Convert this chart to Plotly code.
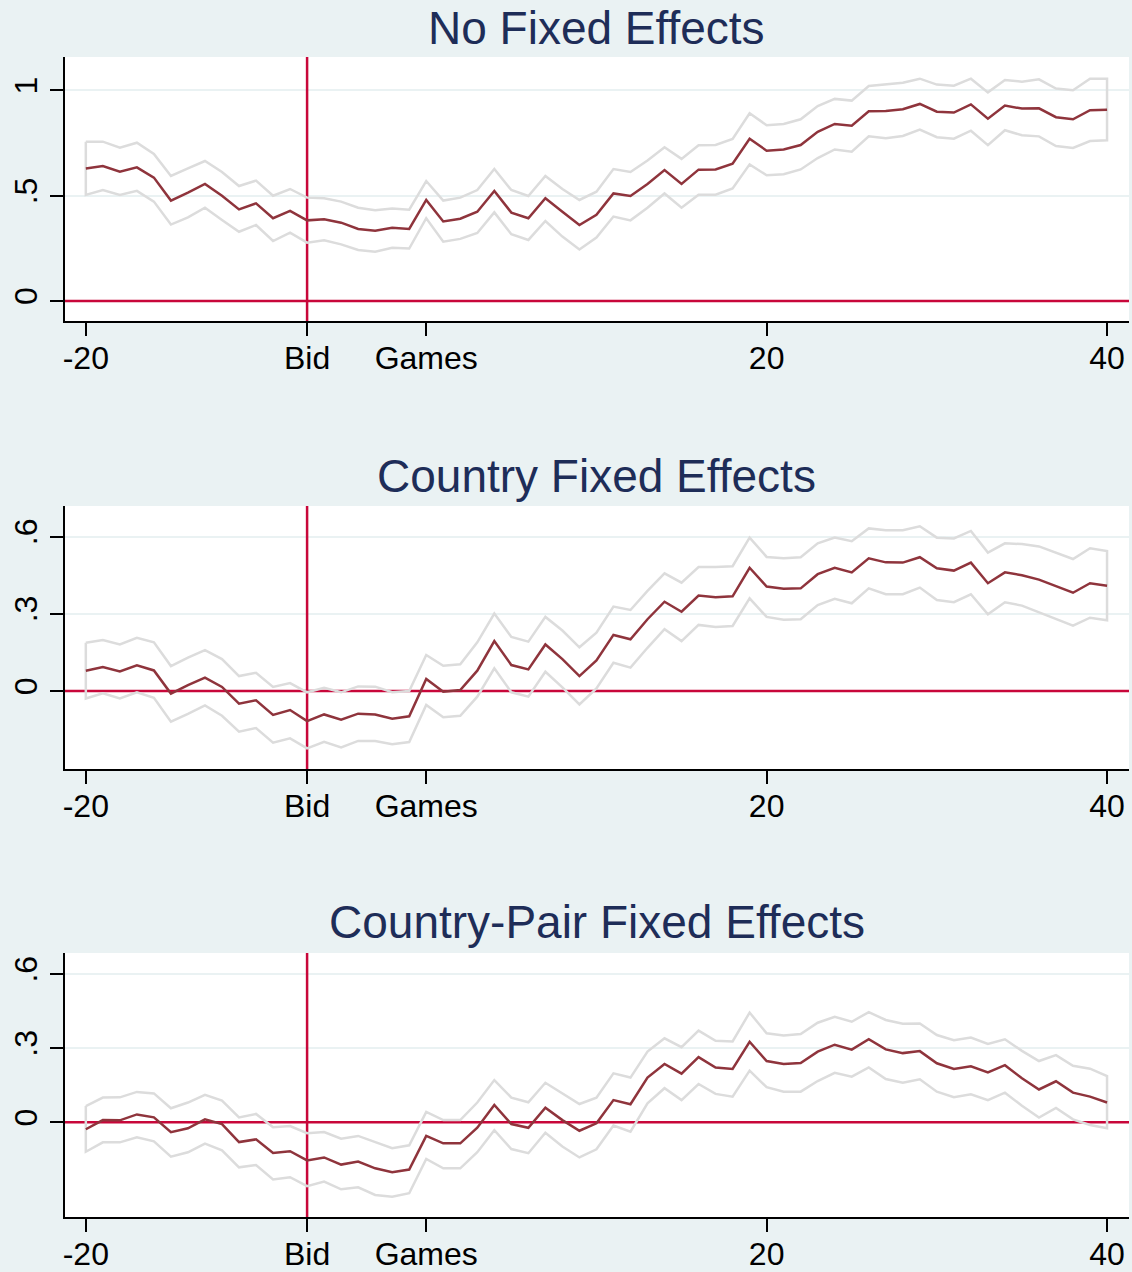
import plotly.graph_objects as go

# ---------------- data ----------------
periods = list(range(-20, 41))
tick_vals = [-20, -7, 0, 20, 40]
tick_text = ["-20", "Bid", "Games", "20", "40"]

titles = ["No Fixed Effects", "Country Fixed Effects", "Country-Pair Fixed Effects"]

nofe_est = [0.629, 0.641, 0.614, 0.635, 0.586, 0.477, 0.515, 0.556, 0.500, 0.435, 0.464, 0.393, 0.428, 0.383, 0.388, 0.372, 0.342, 0.334, 0.348, 0.342, 0.480,
            0.378, 0.391, 0.424, 0.523, 0.420, 0.393, 0.488, 0.424, 0.361, 0.409, 0.511, 0.499, 0.556, 0.622, 0.556, 0.624, 0.625, 0.652, 0.771, 0.714,
            0.720, 0.741, 0.804, 0.841, 0.833, 0.901, 0.903, 0.911, 0.936, 0.899, 0.895, 0.934, 0.866, 0.928, 0.914, 0.915, 0.873, 0.863, 0.906, 0.909]
nofe_hi = [0.757, 0.757, 0.728, 0.752, 0.698, 0.594, 0.630, 0.665, 0.613, 0.546, 0.572, 0.500, 0.532, 0.491, 0.488, 0.472, 0.443, 0.431, 0.439, 0.434, 0.570,
           0.477, 0.491, 0.527, 0.627, 0.527, 0.499, 0.594, 0.532, 0.480, 0.519, 0.627, 0.613, 0.667, 0.730, 0.675, 0.740, 0.741, 0.770, 0.892, 0.835,
           0.841, 0.863, 0.926, 0.960, 0.952, 1.021, 1.028, 1.037, 1.056, 1.028, 1.023, 1.056, 0.991, 1.050, 1.042, 1.053, 1.009, 1.001, 1.056, 1.056]
nofe_lo = [0.504, 0.527, 0.504, 0.523, 0.472, 0.363, 0.397, 0.443, 0.385, 0.329, 0.361, 0.285, 0.325, 0.277, 0.288, 0.269, 0.242, 0.234, 0.253, 0.249, 0.393,
           0.282, 0.295, 0.323, 0.421, 0.317, 0.290, 0.380, 0.306, 0.245, 0.301, 0.401, 0.383, 0.443, 0.511, 0.443, 0.505, 0.505, 0.535, 0.649, 0.597,
           0.602, 0.625, 0.679, 0.720, 0.709, 0.782, 0.773, 0.784, 0.814, 0.778, 0.771, 0.809, 0.740, 0.811, 0.787, 0.782, 0.736, 0.727, 0.760, 0.763]

cfe_est = [0.079, 0.093, 0.076, 0.100, 0.080, -0.010, 0.023, 0.052, 0.016, -0.049, -0.036, -0.093, -0.074, -0.117, -0.091, -0.111, -0.088, -0.091, -0.108, -0.098, 0.047,
           -0.003, 0.004, 0.079, 0.194, 0.101, 0.084, 0.181, 0.124, 0.058, 0.119, 0.218, 0.201, 0.279, 0.347, 0.308, 0.371, 0.364, 0.368, 0.479, 0.406,
           0.397, 0.399, 0.454, 0.479, 0.461, 0.516, 0.500, 0.499, 0.520, 0.477, 0.468, 0.499, 0.419, 0.461, 0.450, 0.433, 0.408, 0.382, 0.419, 0.409]
cfe_hi = [0.188, 0.198, 0.181, 0.207, 0.189, 0.097, 0.130, 0.159, 0.124, 0.058, 0.071, 0.016, 0.031, -0.005, 0.013, -0.005, 0.018, 0.017, -0.005, 0.000, 0.140,
          0.098, 0.104, 0.189, 0.301, 0.210, 0.192, 0.288, 0.235, 0.170, 0.227, 0.328, 0.315, 0.389, 0.457, 0.421, 0.482, 0.482, 0.485, 0.596, 0.521,
          0.516, 0.520, 0.574, 0.596, 0.582, 0.632, 0.625, 0.625, 0.640, 0.596, 0.593, 0.622, 0.538, 0.574, 0.571, 0.562, 0.538, 0.513, 0.555, 0.544]
cfe_lo = [-0.029, -0.009, -0.029, -0.005, -0.026, -0.119, -0.089, -0.056, -0.096, -0.158, -0.144, -0.201, -0.184, -0.223, -0.197, -0.219, -0.194, -0.194, -0.207, -0.198, -0.054,
          -0.102, -0.096, -0.022, 0.088, -0.005, -0.022, 0.075, 0.014, -0.052, 0.010, 0.110, 0.091, 0.168, 0.240, 0.194, 0.257, 0.249, 0.253, 0.360, 0.288,
          0.277, 0.279, 0.334, 0.358, 0.341, 0.399, 0.376, 0.376, 0.402, 0.354, 0.345, 0.376, 0.298, 0.345, 0.332, 0.306, 0.280, 0.254, 0.285, 0.275]

pfe_est = [-0.028, 0.009, 0.008, 0.032, 0.020, -0.040, -0.024, 0.012, -0.007, -0.080, -0.069, -0.124, -0.117, -0.154, -0.142, -0.171, -0.159, -0.186, -0.202, -0.191, -0.055,
           -0.085, -0.085, -0.022, 0.070, -0.007, -0.022, 0.059, 0.009, -0.034, -0.004, 0.090, 0.073, 0.181, 0.236, 0.197, 0.264, 0.222, 0.216, 0.326, 0.248,
           0.236, 0.240, 0.286, 0.314, 0.294, 0.336, 0.295, 0.280, 0.288, 0.239, 0.216, 0.227, 0.202, 0.231, 0.178, 0.133, 0.166, 0.120, 0.104, 0.080]
pfe_hi = [0.066, 0.100, 0.101, 0.123, 0.117, 0.057, 0.080, 0.111, 0.088, 0.020, 0.034, -0.020, -0.015, -0.044, -0.039, -0.066, -0.055, -0.081, -0.105, -0.093, 0.042,
          0.009, 0.009, 0.080, 0.171, 0.100, 0.081, 0.160, 0.117, 0.074, 0.100, 0.198, 0.181, 0.286, 0.340, 0.304, 0.371, 0.330, 0.327, 0.444, 0.360,
          0.351, 0.357, 0.403, 0.427, 0.407, 0.446, 0.414, 0.399, 0.400, 0.353, 0.332, 0.343, 0.317, 0.336, 0.289, 0.248, 0.272, 0.229, 0.217, 0.187]
pfe_lo = [-0.119, -0.081, -0.081, -0.061, -0.077, -0.139, -0.121, -0.086, -0.113, -0.182, -0.173, -0.231, -0.222, -0.258, -0.240, -0.271, -0.263, -0.294, -0.301, -0.287, -0.148,
          -0.186, -0.186, -0.121, -0.032, -0.108, -0.125, -0.042, -0.098, -0.142, -0.109, -0.013, -0.038, 0.077, 0.138, 0.090, 0.155, 0.115, 0.104, 0.209, 0.142,
          0.124, 0.124, 0.167, 0.200, 0.185, 0.222, 0.175, 0.160, 0.174, 0.124, 0.102, 0.113, 0.090, 0.120, 0.067, 0.019, 0.058, 0.012, -0.011, -0.024]

y_ticks = [[0, 0.5, 1], [0, 0.3, 0.6], [0, 0.3, 0.6]]
y_ticktext = [["0", ".5", "1"], ["0", ".3", ".6"], ["0", ".3", ".6"]]

# ---------------- styling ----------------
W, H = 1132, 1272
BG = "#EAF2F3"
EST_COLOR = "#8F343C"
CI_COLOR = "#DCDCDC"
REF_COLOR = "#C8073A"
TITLE_COLOR = "#1E2D58"
FONT = "Liberation Sans, Arial, sans-serif"

x_range = [-21.23, 41.29]
y_ranges = [[-0.095, 1.159], [-0.303, 0.719], [-0.383, 0.685]]
panel_px = [(57, 321), (506, 769), (953, 1217)]
x_px = (63, 1129)
title_px = [28, 476, 922]

panels = [(nofe_est, nofe_hi, nofe_lo), (cfe_est, cfe_hi, cfe_lo), (pfe_est, pfe_hi, pfe_lo)]

fig = go.Figure()
layout = dict(
    width=W, height=H,
    paper_bgcolor=BG, plot_bgcolor="white",
    margin=dict(l=0, r=0, t=0, b=0),
    showlegend=False,
    font=dict(family=FONT, size=32, color="black"),
)
annotations = []

for i, (est, hi, lo) in enumerate(panels):
    n = i + 1
    xa = "x" if n == 1 else f"x{n}"
    ya = "y" if n == 1 else f"y{n}"
    xkey = "xaxis" if n == 1 else f"xaxis{n}"
    ykey = "yaxis" if n == 1 else f"yaxis{n}"

    # reference lines (drawn first so the series sit on top): y = 0 and x = Bid
    fig.add_trace(go.Scatter(x=x_range, y=[y_ticks[i][0]] * 2, mode="lines",
                             line=dict(color=REF_COLOR, width=2.5),
                             xaxis=xa, yaxis=ya, hoverinfo="skip"))
    fig.add_trace(go.Scatter(x=[tick_vals[1]] * 2, y=y_ranges[i], mode="lines",
                             line=dict(color=REF_COLOR, width=2.5),
                             xaxis=xa, yaxis=ya, hoverinfo="skip"))

    # confidence band outline (closed at both ends)
    band_x = periods + periods[::-1] + [periods[0]]
    band_y = hi + lo[::-1] + [hi[0]]
    fig.add_trace(go.Scatter(x=band_x, y=band_y, mode="lines",
                             line=dict(color=CI_COLOR, width=2.5),
                             xaxis=xa, yaxis=ya, hoverinfo="skip"))
    fig.add_trace(go.Scatter(x=periods, y=est, mode="lines",
                             line=dict(color=EST_COLOR, width=2.5),
                             xaxis=xa, yaxis=ya))

    top, bot = panel_px[i]
    layout[xkey] = dict(
        domain=[x_px[0] / W, x_px[1] / W],
        range=x_range, anchor=ya,
        tickmode="array", tickvals=tick_vals, ticktext=tick_text,
        ticks="outside", ticklen=13, tickwidth=1.5, tickcolor="black",
        showline=True, linecolor="black", linewidth=1.5,
        showgrid=False, zeroline=False, ticklabelstandoff=-5,
        tickfont=dict(family=FONT, size=32, color="black"),
    )
    layout[ykey] = dict(
        domain=[1 - bot / H, 1 - top / H],
        range=y_ranges[i], anchor=xa,
        tickmode="array", tickvals=y_ticks[i], ticktext=y_ticktext[i],
        ticks="outside", ticklen=13, tickwidth=1.5, tickcolor="black",
        showline=True, linecolor="black", linewidth=1.5,
        showgrid=True, gridcolor=BG, gridwidth=2,
        zeroline=False, tickangle=-90,
        tickfont=dict(family=FONT, size=32, color="black"),
    )

    annotations.append(dict(text=titles[i], xref="paper", yref="paper",
                            x=(x_px[0] + x_px[1]) / 2 / W, y=1 - title_px[i] / H,
                            xanchor="center", yanchor="middle", showarrow=False,
                            font=dict(family=FONT, size=46, color=TITLE_COLOR)))

layout["annotations"] = annotations
fig.update_layout(**layout)
fig.write_html("out.html", config={"displayModeBar": False},
               post_script="document.body.style.margin='0';document.body.style.background='%s';" % BG)
